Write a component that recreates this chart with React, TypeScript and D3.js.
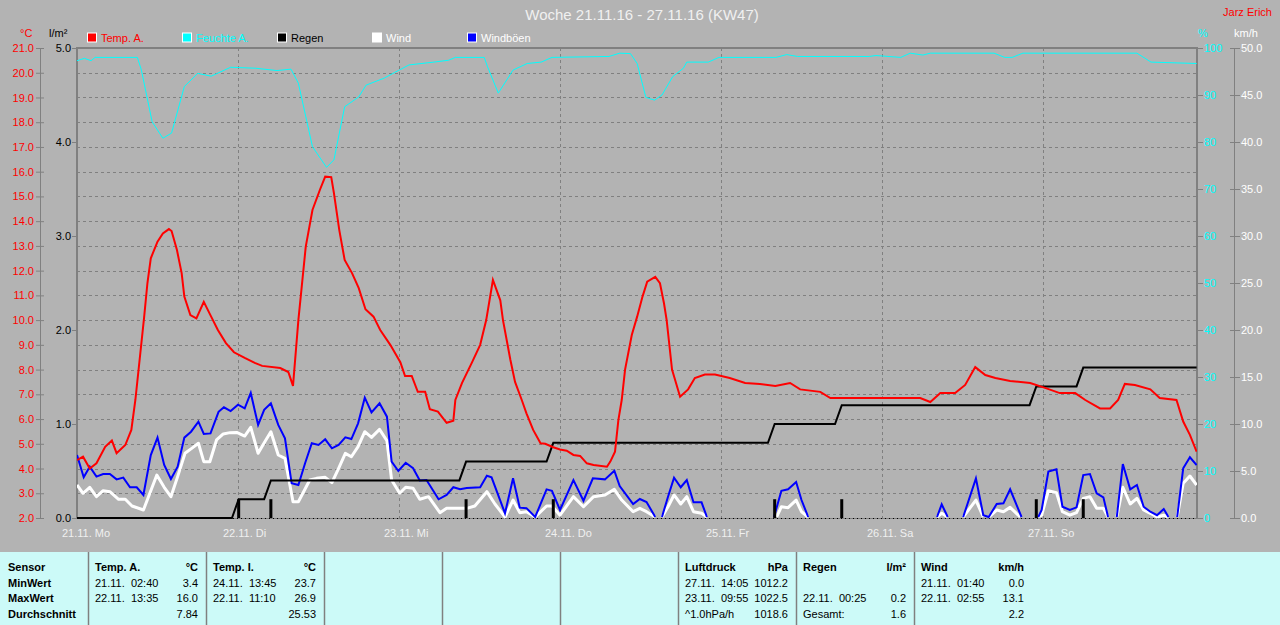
import * as d3 from 'd3';
import React, { Component } from 'react';

// hours since 21.11. 00:00 -> value
const humidity: [number, number][] = [
  [0, 97.3], [1.1, 97.8], [2.1, 97.3], [2.7, 98.0], [9.0, 98.0], [9.6, 95.3], [11.2, 84.3], [12.8, 80.8],
  [14.1, 81.9], [16.0, 91.8], [18.0, 94.6], [20.0, 94.0], [22.9, 95.9], [26.6, 95.7], [29.8, 95.2],
  [31.9, 95.5], [33.0, 92.5], [35.1, 79.0], [37.2, 74.6], [38.3, 76.2], [39.9, 87.5], [42.0, 89.6],
  [43.1, 92.1], [45.8, 93.6], [47.9, 95.2], [49.5, 96.4], [53.2, 97.0], [55.4, 97.4], [56.4, 98.0],
  [60.7, 98.0], [61.2, 96.0], [62.8, 90.4], [65.0, 95.3], [67.1, 96.7], [69.2, 97.0], [70.8, 98.0],
  [79.3, 98.2], [80.9, 98.9], [82.5, 98.8], [83.5, 96.7], [84.8, 89.5], [86.1, 88.9], [87.2, 90.0],
  [88.8, 93.9], [90.4, 95.7], [90.9, 97.0], [94.1, 97.0], [95.7, 98.0], [104.2, 98.0], [105.8, 98.6],
  [107.4, 98.2], [118.1, 98.2], [119.1, 98.4], [122.8, 98.0], [124.2, 98.9], [126.1, 98.5], [127.2, 98.9],
  [136.7, 98.9], [138.3, 98.0], [139.4, 98.0], [141.0, 98.9], [158.0, 98.9], [160.1, 97.0], [166.9, 96.7],
];

const temperature: [number, number][] = [
  [0, 4.34], [0.9, 4.48], [1.9, 4.0], [2.9, 4.21], [4.2, 4.88], [5.2, 5.13], [5.9, 4.62], [7.2, 4.95],
  [8.1, 5.56], [8.7, 6.77], [10.0, 10.1], [10.5, 11.5], [11.0, 12.5], [12.0, 13.17], [12.8, 13.5],
  [13.7, 13.68], [14.1, 13.6], [14.9, 12.83], [15.6, 11.9], [16.0, 10.95], [16.9, 10.2], [17.8, 10.07],
  [18.9, 10.74], [20.0, 10.14], [21.0, 9.6], [22.2, 9.07], [23.4, 8.7], [25.0, 8.47], [26.5, 8.27],
  [27.6, 8.15], [30.3, 8.06], [31.5, 7.9], [32.2, 7.34], [33.0, 10.0], [34.1, 12.97], [35.1, 14.45],
  [36.2, 15.26], [37.0, 15.8], [37.9, 15.78], [38.3, 15.13], [39.1, 13.64], [39.9, 12.43], [41.0, 11.9],
  [42.0, 11.29], [43.0, 10.44], [44.2, 10.14], [45.2, 9.6], [46.7, 9.0], [48.2, 8.3], [48.9, 7.74],
  [49.9, 7.74], [50.8, 7.1], [51.9, 7.1], [52.6, 6.4], [53.8, 6.3], [55.1, 5.85], [56.1, 5.93],
  [56.4, 6.77], [57.4, 7.46], [58.9, 8.3], [60.1, 9.0], [61.0, 10.0], [62.0, 11.62], [63.1, 10.8],
  [63.5, 10.0], [64.6, 8.4], [65.3, 7.5], [66.3, 6.77], [67.0, 6.23], [68.0, 5.56], [69.1, 5.02],
  [69.8, 5.0], [71.0, 4.86], [72.0, 4.77], [73.0, 4.72], [74.0, 4.55], [75.0, 4.51], [76.0, 4.21],
  [77.0, 4.14], [79.0, 4.07], [79.5, 4.28], [80.2, 4.68], [80.7, 5.96], [81.2, 6.77], [81.7, 8.0],
  [82.7, 9.4], [83.5, 10.14], [84.3, 10.95], [85.0, 11.55], [86.2, 11.75], [86.9, 11.49], [87.5, 10.68],
  [87.9, 10.0], [88.7, 8.0], [89.9, 6.9], [91.1, 7.2], [92.1, 7.66], [93.6, 7.8], [95.1, 7.8],
  [97.3, 7.66], [99.6, 7.46], [101.8, 7.42], [104.1, 7.34], [106.3, 7.46], [107.8, 7.2], [110.8, 7.1],
  [112.3, 6.85], [125.7, 6.85], [127.2, 6.69], [128.7, 7.05], [130.9, 7.05], [132.4, 7.38], [133.9, 8.1],
  [135.4, 7.78], [136.9, 7.66], [139.1, 7.54], [142.1, 7.46], [144.3, 7.26], [146.5, 7.05], [148.8, 7.05],
  [150.3, 6.77], [152.5, 6.43], [154.0, 6.43], [155.2, 6.77], [156.2, 7.42], [157.7, 7.38], [160.0, 7.2],
  [161.4, 6.85], [163.9, 6.77], [164.9, 5.9], [165.9, 5.36], [166.9, 4.68],
];

const gusts: [number, number][] = [
  [0, 6.7], [1.0, 4.33], [1.9, 5.46], [2.9, 4.4], [3.9, 4.68], [4.9, 4.68], [5.9, 4.11], [6.9, 4.3],
  [7.9, 3.27], [8.9, 3.27], [9.9, 2.45], [11.0, 6.7], [12.0, 8.55], [13.0, 5.64], [14.0, 4.15], [15.0, 5.46],
  [16.0, 8.55], [17.0, 9.18], [18.1, 10.25], [18.9, 8.94], [19.9, 9.0], [21.1, 11.3], [21.9, 11.78],
  [22.9, 11.38], [24.0, 12.05], [25.0, 11.67], [25.9, 13.3], [27.0, 9.9], [27.9, 11.5], [28.9, 12.2],
  [30.0, 9.9], [31.0, 8.48], [32.0, 3.69], [33.0, 3.51], [34.0, 5.82], [35.0, 7.95], [36.0, 7.77],
  [37.0, 8.37], [38.0, 7.41], [39.0, 7.77], [40.0, 8.58], [40.9, 8.4], [41.9, 10.07], [42.9, 12.8],
  [43.9, 11.24], [45.1, 12.2], [46.2, 10.78], [46.9, 5.99], [47.9, 5.0], [49.0, 5.88], [50.1, 5.29],
  [51.1, 4.0], [52.1, 4.04], [53.9, 1.99], [55.1, 2.45], [56.1, 3.27], [57.1, 3.05], [58.1, 3.2],
  [60.1, 3.27], [61.1, 4.5], [61.8, 4.33], [63.8, 0.5], [65.0, 4.22], [66.0, 1.1], [67.0, 1.05], [68.3, 0],
  [70.0, 3.05], [70.8, 2.9], [72.0, 0.85], [74.0, 4.04], [75.5, 1.84], [76.9, 4.22], [78.7, 4.11],
  [80.1, 5.03], [80.9, 3.4], [82.9, 1.49], [83.9, 2.02], [84.9, 1.7], [86.2, 0], [87.2, 0], [88.1, 2.27],
  [89.0, 4.29], [90.0, 3.27], [90.9, 4.04], [91.9, 1.67], [93.1, 1.67], [93.9, 0], [103.9, 0], [105.0, 2.9],
  [106.0, 3.05], [107.2, 3.83], [108.0, 1.91], [109.0, 0], [128.2, 0], [128.9, 1.45], [129.8, 0], [132.1, 0],
  [134.0, 4.22], [135.1, 0.3], [135.9, 0], [137.1, 1.49], [138.1, 1.56], [139.1, 3.05], [140.8, 0],
  [143.3, 0], [143.8, 0.85], [144.8, 4.93], [146.0, 5.18], [146.9, 1.2], [148.0, 0.85], [149.0, 1.13],
  [150.0, 4.57], [151.0, 4.68], [152.0, 2.63], [153.0, 2.2], [153.7, 0], [155.0, 0], [155.9, 5.74],
  [157.0, 3.05], [158.0, 3.51], [159.0, 1.2], [160.0, 0.67], [161.0, 0.3], [162.0, 0.96], [162.7, 0],
  [164.0, 0], [164.9, 5.29], [165.9, 6.46], [166.9, 5.64],
];

const wind: [number, number][] = [
  [0, 3.51], [0.9, 2.63], [1.9, 3.27], [2.9, 2.27], [3.9, 2.9], [4.9, 2.8], [6.2, 1.99], [7.2, 1.99],
  [8.2, 1.28], [9.9, 0.85], [11.9, 4.57], [13.0, 3.27], [14.0, 2.27], [15.0, 4.4], [16.1, 6.88], [17.1, 7.41],
  [18.1, 7.95], [18.9, 5.99], [19.8, 5.99], [20.8, 8.3], [21.8, 8.94], [22.8, 9.08], [23.8, 9.1],
  [25.0, 8.72], [25.9, 9.65], [27.0, 6.88], [28.0, 8.12], [28.9, 9.18], [30.0, 6.7], [31.0, 6.35],
  [32.2, 1.73], [33.0, 1.73], [34.7, 4.04], [35.7, 4.22], [37.0, 4.33], [38.0, 3.76], [39.0, 5.29],
  [40.0, 6.88], [40.9, 6.52], [41.9, 7.59], [42.9, 9.18], [43.9, 8.58], [45.1, 9.43], [46.2, 8.22],
  [46.9, 4.04], [48.1, 2.63], [49.0, 3.27], [50.1, 3.16], [51.1, 1.99], [52.4, 2.27], [54.1, 0.57],
  [55.1, 1.03], [58.1, 1.03], [59.3, 1.28], [61.1, 2.8], [62.3, 1.49], [63.8, 0], [65.0, 1.91], [66.0, 0.57],
  [67.0, 0.67], [68.3, 0], [70.0, 1.28], [70.8, 1.28], [72.0, 0.3], [74.0, 2.27], [75.5, 1.2], [77.0, 2.27],
  [78.7, 2.45], [80.1, 3.05], [81.2, 1.91], [82.9, 0.67], [83.9, 1.03], [84.9, 0.67], [86.2, 0], [87.2, 0],
  [88.1, 1.2], [89.0, 2.45], [90.0, 1.49], [90.9, 2.27], [91.9, 0.67], [93.1, 0.5], [93.9, 0], [104.3, 0],
  [105.0, 1.2], [106.0, 1.1], [107.2, 1.91], [108.0, 0.67], [109.0, 0], [128.2, 0], [128.9, 0.5], [129.8, 0],
  [132.1, 0], [134.0, 1.91], [135.1, 0], [135.9, 0], [137.1, 0.85], [138.1, 0.67], [139.1, 1.13], [140.6, 0],
  [143.3, 0], [143.8, 0.3], [144.8, 2.9], [146.0, 2.7], [146.9, 0.67], [148.0, 0.3], [149.0, 0.57],
  [150.0, 2.09], [151.0, 2.27], [152.0, 1.03], [153.0, 1.03], [153.7, 0], [155.0, 0], [155.9, 3.27],
  [157.0, 1.49], [158.0, 2.09], [159.0, 0.85], [160.0, 0.5], [161.0, 0], [162.0, 0.3], [162.7, 0], [164.0, 0],
  [164.9, 3.69], [165.9, 4.47], [166.9, 3.51],
];

// rain per interval (l/m²)
const rainHours = [24.1, 28.9, 58.0, 71.0, 104.0, 114.0, 143.0, 150.0];
const rainAmounts = [0.2, 0.2, 0.2, 0.2, 0.2, 0.2, 0.2, 0.2];

const dayLabels = ['21.11. Mo', '22.11. Di', '23.11. Mi', '24.11. Do', '25.11. Fr', '26.11. Sa', '27.11. So'];

const legendItems = [
  { label: 'Temp. A.', color: '#ff0000', text: '#ff0000' },
  { label: 'Feuchte A.', color: '#00ffff', text: '#00ffff' },
  { label: 'Regen', color: '#000000', text: '#000000' },
  { label: 'Wind', color: '#ffffff', text: '#ffffff' },
  { label: 'Windböen', color: '#0000ff', text: '#ffffff' },
];

const sensorRows = ['Sensor', 'MinWert', 'MaxWert', 'Durchschnitt'];
const statColumns = [
  { col: 1, title: 'Temp. A.', unit: '°C', rows: [['21.11.  02:40', '3.4'], ['22.11.  13:35', '16.0'], ['', '7.84']] },
  { col: 2, title: 'Temp. I.', unit: '°C', rows: [['24.11.  13:45', '23.7'], ['22.11.  11:10', '26.9'], ['', '25.53']] },
  { col: 6, title: 'Luftdruck', unit: 'hPa', rows: [['27.11.  14:05', '1012.2'], ['23.11.  09:55', '1022.5'], ['^1.0hPa/h', '1018.6']] },
  { col: 7, title: 'Regen', unit: 'l/m²', rows: [['', ''], ['22.11.  00:25', '0.2'], ['Gesamt:', '1.6']] },
  { col: 8, title: 'Wind', unit: 'km/h', rows: [['21.11.  01:40', '0.0'], ['22.11.  02:55', '13.1'], ['', '2.2']] },
];

const FONT = "'Liberation Sans', Arial, sans-serif";

class App extends Component {
  private node: any;

  componentDidMount() {
    document.body.style.margin = '0';
    this.createChart();
  }

  createChart() {
    const width = 1280;
    const height = 625;
    const left = 77;
    const right = 1197;
    const top = 48;
    const bottom = 518;
    const dayWidth = 161;
    const bg = '#b3b3b3';
    const frame = '#808080';

    const svg = d3.select(this.node);
    svg.selectAll('*').remove();
    svg.attr('width', width).attr('height', height).style('display', 'block');

    svg.append('rect').attr('width', width).attr('height', height).attr('fill', bg);

    const x = d3.scaleLinear().domain([0, 168]).range([left, left + dayWidth * 7]);
    const yT = d3.scaleLinear().domain([2, 21]).range([bottom, top]);
    const yR = d3.scaleLinear().domain([0, 5]).range([bottom, top]);
    const yH = d3.scaleLinear().domain([0, 100]).range([bottom, top]);
    const yW = d3.scaleLinear().domain([0, 50]).range([bottom, top]);

    svg.append('clipPath').attr('id', 'plot').append('rect')
      .attr('x', left).attr('y', top - 2).attr('width', right - left).attr('height', bottom - top + 4);

    // grid
    const grid = svg.append('g').attr('stroke', '#808080').attr('stroke-dasharray', '3,3').attr('stroke-width', 1);
    d3.range(3, 21).forEach((t) => {
      grid.append('line').attr('x1', left).attr('x2', right)
        .attr('y1', Math.round(yT(t)) + 0.5).attr('y2', Math.round(yT(t)) + 0.5);
    });
    d3.range(1, 7).forEach((d) => {
      grid.append('line').attr('y1', top).attr('y2', bottom)
        .attr('x1', Math.round(x(d * 24)) + 0.5).attr('x2', Math.round(x(d * 24)) + 0.5);
    });

    // frame
    svg.append('line').attr('x1', left - 1).attr('x2', right + 1).attr('y1', top).attr('y2', top)
      .attr('stroke', frame).attr('stroke-width', 2);
    svg.append('line').attr('x1', left).attr('x2', left).attr('y1', top).attr('y2', bottom + 1)
      .attr('stroke', frame).attr('stroke-width', 2);
    svg.append('line').attr('x1', right).attr('x2', right).attr('y1', top).attr('y2', bottom + 1)
      .attr('stroke', frame).attr('stroke-width', 2);
    svg.append('line').attr('x1', left).attr('x2', right).attr('y1', bottom + 0.5).attr('y2', bottom + 0.5)
      .attr('stroke', frame).attr('stroke-width', 1);
    svg.append('line').attr('x1', left).attr('x2', right).attr('y1', bottom + 0.5).attr('y2', bottom + 0.5)
      .attr('stroke', '#000').attr('stroke-width', 1).attr('stroke-dasharray', '1,3');

    // axes
    const styleAxis = (g, color) => {
      g.select('.domain').remove();
      g.selectAll('line').attr('stroke', frame);
      g.selectAll('text').attr('fill', color).attr('font-family', FONT).attr('font-size', 11);
    };

    svg.append('line').attr('x1', 40.5).attr('x2', 40.5).attr('y1', top).attr('y2', bottom)
      .attr('stroke', frame);
    svg.append('g').attr('transform', 'translate(44,0)')
      .call(d3.axisLeft(yT).tickValues(d3.range(2, 22)).tickFormat(d3.format('.1f')).tickSize(8).tickPadding(2))
      .call((g) => styleAxis(g, '#ff0000'));

    svg.append('g').attr('transform', `translate(${left},0)`)
      .call(d3.axisLeft(yR).tickValues(d3.range(0, 6)).tickFormat(d3.format('.1f')).tickSize(5).tickPadding(1))
      .call((g) => styleAxis(g, '#000000'));

    svg.append('g').attr('transform', `translate(${right},0)`)
      .call(d3.axisRight(yH).tickValues(d3.range(0, 101, 10)).tickFormat(d3.format('d')).tickSize(6).tickPadding(1))
      .call((g) => styleAxis(g, '#00ffff'));

    svg.append('line').attr('x1', 1234.5).attr('x2', 1234.5).attr('y1', top).attr('y2', bottom)
      .attr('stroke', frame);
    svg.append('g').attr('transform', 'translate(1230,0)')
      .call(d3.axisRight(yW).tickValues(d3.range(0, 51, 5)).tickFormat(d3.format('.1f')).tickSize(10).tickPadding(1))
      .call((g) => styleAxis(g, '#ffffff'));

    // unit labels
    const unit = (tx, text, color) => svg.append('text').attr('x', tx).attr('y', 37)
      .attr('fill', color).attr('font-family', FONT).attr('font-size', 11).text(text);
    unit(20, '°C', '#ff0000');
    unit(49, 'l/m²', '#000000');
    unit(1198, '%', '#00ffff');
    unit(1234, 'km/h', '#ffffff');

    svg.append('text').attr('x', 1272).attr('y', 16).attr('text-anchor', 'end')
      .attr('fill', '#ff0000').attr('font-family', FONT).attr('font-size', 11).text('Jarz Erich');

    svg.append('text').attr('x', 642).attr('y', 20).attr('text-anchor', 'middle')
      .attr('fill', '#f0f0f0').attr('font-family', FONT).attr('font-size', 15)
      .text('Woche 21.11.16 - 27.11.16 (KW47)');

    // legend
    legendItems.forEach((item, i) => {
      const lx = 87.5 + i * 95;
      svg.append('rect').attr('x', lx).attr('y', 33).attr('width', 9).attr('height', 9)
        .attr('fill', item.color).attr('stroke', '#ffffff').attr('stroke-width', 1);
      svg.append('text').attr('x', lx + 13.5).attr('y', 42).attr('fill', item.text)
        .attr('font-family', FONT).attr('font-size', 11).text(item.label);
    });

    // day labels
    dayLabels.forEach((lab, i) => {
      svg.append('text').attr('x', x(i * 24) - 15).attr('y', 537).attr('fill', '#f0f0f0')
        .attr('font-family', FONT).attr('font-size', 11).text(lab);
    });

    const plot = svg.append('g').attr('clip-path', 'url(#plot)');

    plot.append('path').datum(humidity)
      .attr('d', d3.line<[number, number]>().x((d) => x(d[0])).y((d) => yH(d[1])))
      .attr('fill', 'none').attr('stroke', '#00ffff').attr('stroke-width', 1);

    // wind lines only where they leave zero
    const runs = (pts: [number, number][]) => {
      const out: [number, number][][] = [];
      let cur: [number, number][] = [];
      for (let i = 0; i < pts.length - 1; i++) {
        const a = pts[i];
        const b = pts[i + 1];
        if (a[1] > 0 || b[1] > 0) {
          if (!cur.length) cur.push(a);
          cur.push(b);
        } else if (cur.length) {
          out.push(cur);
          cur = [];
        }
      }
      if (cur.length) out.push(cur);
      return out;
    };
    const windLine = d3.line<[number, number]>().x((d) => x(d[0])).y((d) => Math.min(yW(d[1]), bottom - 1));

    runs(wind).forEach((seg) => {
      plot.append('path').datum(seg).attr('d', windLine)
        .attr('fill', 'none').attr('stroke', '#ffffff').attr('stroke-width', 3).attr('stroke-linejoin', 'round');
    });
    runs(gusts).forEach((seg) => {
      plot.append('path').datum(seg).attr('d', windLine)
        .attr('fill', 'none').attr('stroke', '#0000ff').attr('stroke-width', 2);
    });

    // rain cumulative and bars
    const rainSum: [number, number][] = [[0, 0]];
    const totals = d3.cumsum(rainAmounts);
    rainHours.forEach((h, i) => {
      rainSum.push([h - 1, i ? totals[i - 1] : 0]);
      rainSum.push([h, totals[i]]);
    });
    rainSum.push([166.9, totals[totals.length - 1]]);

    plot.append('path').datum(rainSum)
      .attr('d', d3.line<[number, number]>().x((d) => x(d[0])).y((d) => yR(d[1])))
      .attr('fill', 'none').attr('stroke', '#000000').attr('stroke-width', 2);

    plot.selectAll('rect.rain').data(rainHours).enter().append('rect')
      .attr('class', 'rain')
      .attr('x', (h) => x(h) - 1.5)
      .attr('y', (h, i) => yR(rainAmounts[i]))
      .attr('width', 3)
      .attr('height', (h, i) => bottom - yR(rainAmounts[i]))
      .attr('fill', '#000000');

    plot.append('path').datum(temperature)
      .attr('d', d3.line<[number, number]>().x((d) => x(d[0])).y((d) => yT(d[1])))
      .attr('fill', 'none').attr('stroke', '#ff0000').attr('stroke-width', 2);

    // stats table
    const tableTop = 552;
    const colW = 118;
    const colX = (c) => 88 + (c - 1) * colW;
    svg.append('rect').attr('x', 0).attr('y', tableTop).attr('width', width).attr('height', height - tableTop)
      .attr('fill', '#ccfaf8');
    d3.range(1, 9).forEach((c) => {
      svg.append('line').attr('x1', colX(c) + 0.5).attr('x2', colX(c) + 0.5)
        .attr('y1', tableTop).attr('y2', height).attr('stroke', '#808080').attr('stroke-width', 1.5);
    });
    const rowY = [571, 587, 602, 618];
    const cell = (tx, ty, text, bold, anchor) => svg.append('text')
      .attr('x', tx).attr('y', ty).attr('text-anchor', anchor)
      .attr('font-family', FONT).attr('font-size', 11).attr('font-weight', bold ? 'bold' : 'normal')
      .attr('fill', '#000').attr('xml:space', 'preserve').style('white-space', 'pre').text(text);

    sensorRows.forEach((r, i) => cell(8, rowY[i], r, true, 'start'));
    statColumns.forEach((c) => {
      const x0 = colX(c.col) + 7;
      const x1 = colX(c.col) + colW - 8;
      cell(x0, rowY[0], c.title, true, 'start');
      cell(x1, rowY[0], c.unit, true, 'end');
      c.rows.forEach((r, i) => {
        cell(x0, rowY[i + 1], r[0], false, 'start');
        cell(x1, rowY[i + 1], r[1], false, 'end');
      });
    });
  }

  render() {
    return <svg ref={(node) => (this.node = node)} />;
  }
}

export default App;
